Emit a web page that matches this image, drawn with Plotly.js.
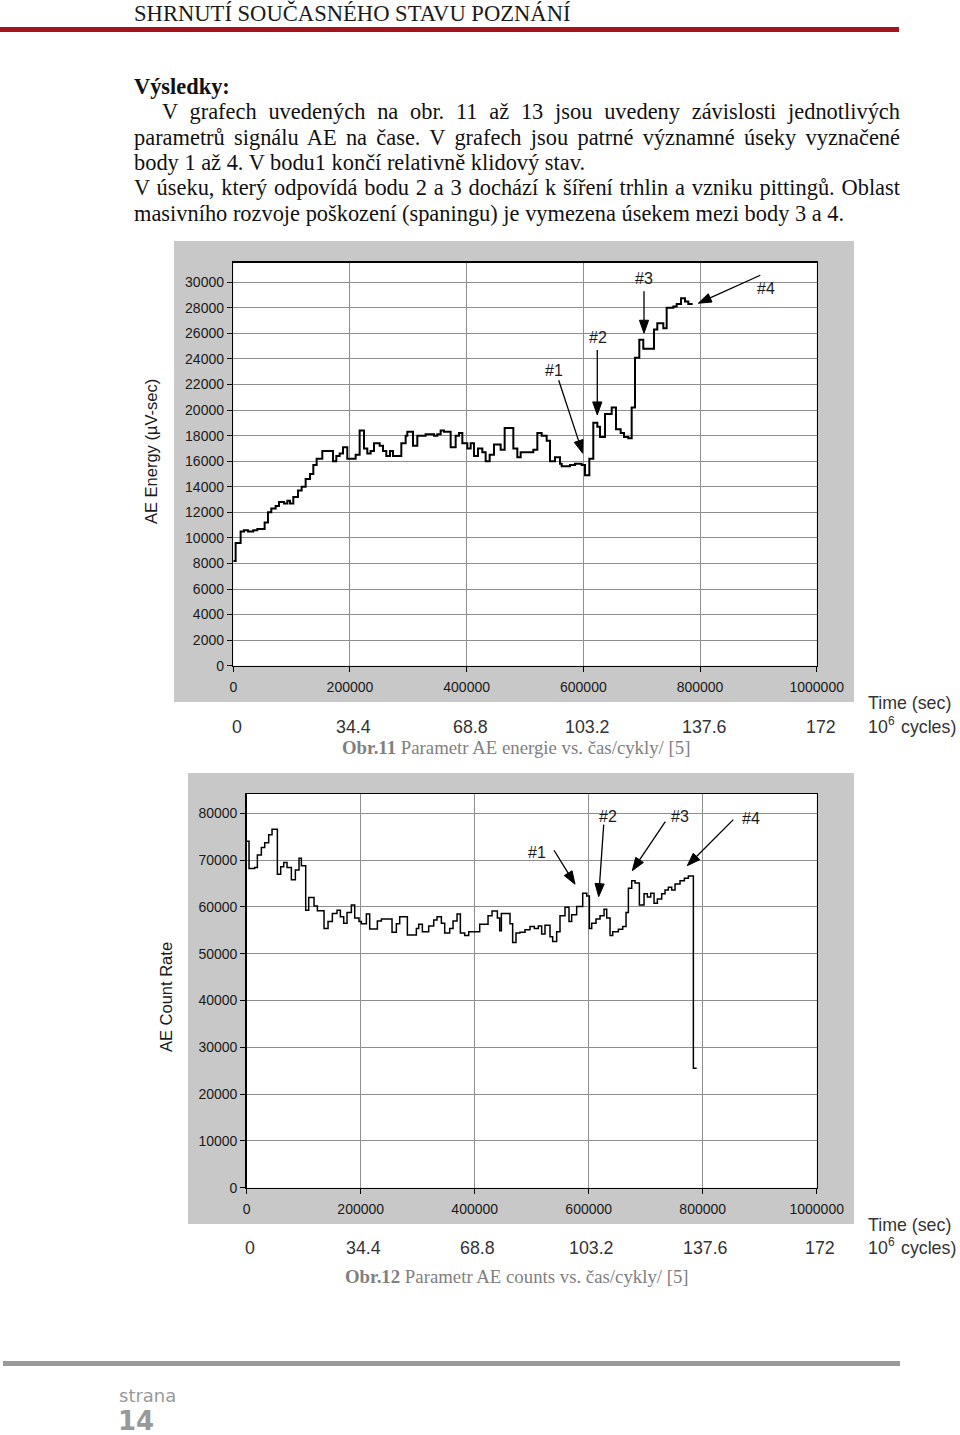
<!DOCTYPE html>
<html><head><meta charset="utf-8">
<script src="https://cdn.plot.ly/plotly-3.0.1.min.js"></script>
<style>
html,body{margin:0;padding:0;background:#fff;}
#page{position:relative;width:960px;height:1435px;overflow:hidden;background:#fff;}
#chart{position:absolute;left:0;top:0;width:960px;height:1435px;z-index:1;}
.t{position:absolute;font-family:"Liberation Serif","Times New Roman",serif;color:#111;white-space:nowrap;z-index:2;font-size:22.4px;line-height:25.4px;}
.j{text-align:justify;text-align-last:justify;white-space:normal;}
.cap{position:absolute;font-family:"Liberation Serif","Times New Roman",serif;color:#808080;font-size:18.8px;line-height:22px;white-space:nowrap;z-index:2;}
</style></head>
<body><div id="page">
<div id="chart"></div>
<div class="t" style="left:134px;top:1px;line-height:26px;font-size:22.6px;color:#1a1a1a;">SHRNUTÍ SOUČASNÉHO STAVU POZNÁNÍ</div>
<div style="position:absolute;left:0;top:27px;width:899px;height:5px;background:#a3141c;z-index:2"></div>
<div class="t" style="left:134px;top:74.3px;font-weight:bold;">Výsledky:</div>
<div class="t j" style="left:162px;top:99.3px;width:738px;">V grafech uvedených na obr. 11 až 13 jsou uvedeny závislosti jednotlivých</div>
<div class="t j" style="left:134px;top:124.8px;width:766px;">parametrů signálu AE na čase. V grafech jsou patrné významné úseky vyznačené</div>
<div class="t" style="left:134px;top:150.3px;">body 1 až 4. V bodu1 končí relativně klidový stav.</div>
<div class="t j" style="left:134px;top:175.3px;width:766px;">V úseku, který odpovídá bodu 2 a 3 dochází k šíření trhlin a vzniku pittingů. Oblast</div>
<div class="t" style="left:134px;top:201.3px;">masivního rozvoje poškození (spaningu) je vymezena úsekem mezi body 3 a 4.</div>
<div class="cap" style="left:342px;top:737px;"><b>Obr.11</b> Parametr AE energie vs. čas/cykly/ [5]</div>
<div class="cap" style="left:345px;top:1266px;"><b>Obr.12</b> Parametr AE counts vs. čas/cykly/ [5]</div>
<div style="position:absolute;left:3px;top:1361px;width:897px;height:5px;background:#9a9a9a;z-index:2"></div>
<div style="position:absolute;left:119px;top:1384px;font-family:'DejaVu Sans',sans-serif;font-size:18px;line-height:24px;color:#999;z-index:2">strana</div>
<div style="position:absolute;left:118px;top:1408px;font-family:'DejaVu Sans',sans-serif;font-weight:bold;font-size:26px;line-height:26px;color:#999;z-index:2">14</div>
</div>
<script>
// ---------- data ----------
// Chart 1: AE Energy (uV-sec) vs time (sec), step series
const energyTime = [0, 4000, 12571, 18286, 25143, 34286, 41143, 53714, 59429, 65143, 72571, 78286, 86857, 92571, 97143, 102857, 110857, 117143, 124000, 131429, 137143, 142857, 152571, 170857, 176571, 182286, 188000, 195429, 209714, 216571, 224000, 229714, 235429, 241143, 250857, 256571, 262286, 268571, 273714, 288000, 295429, 298286, 308000, 315429, 329714, 344000, 349714, 355429, 361143, 372571, 381143, 386857, 392571, 401143, 406857, 412571, 419429, 426857, 432571, 439429, 446857, 458286, 465143, 480000, 486860, 492570, 514280, 521140, 528570, 537140, 542850, 551420, 560000, 562850, 577140, 585710, 597140, 602850, 610280, 617080, 623930, 628500, 637130, 648630, 655990, 664030, 669720, 677070, 682860, 688530, 695920, 702780, 721110, 726780, 737070, 742830, 754260, 760000, 767470, 774230, 779950, 787400];
const energyValue = [8200, 9600, 10500, 10600, 10500, 10600, 10700, 11200, 12000, 12300, 12500, 12800, 12700, 12900, 12700, 13200, 13700, 14000, 14600, 15000, 15700, 16200, 16800, 16000, 16400, 16600, 17100, 16200, 16500, 18400, 17000, 16600, 16800, 17400, 17200, 16800, 16400, 16800, 16400, 17400, 18000, 18300, 17200, 18000, 18100, 18000, 18100, 18400, 18300, 17100, 18000, 18200, 17400, 17000, 17400, 16400, 17000, 16700, 16000, 16500, 17300, 16900, 18600, 17000, 16300, 16700, 16900, 18200, 18000, 17600, 16000, 16300, 15800, 15600, 15700, 15800, 15700, 14900, 16200, 19000, 18700, 17900, 19700, 20200, 18500, 18200, 17900, 17800, 20200, 24100, 25500, 24800, 26300, 26800, 26400, 28000, 28100, 28300, 28750, 28500, 28300, 28300];

// Chart 2: AE Count Rate vs time (sec), step series
const countTime = [0, 4094, 14035, 18714, 25731, 31579, 38597, 44445, 53802, 59650, 64913, 70761, 78363, 85381, 91814, 95907, 103510, 108773, 118130, 123978, 135674, 142691, 150294, 158481, 164329, 170177, 176025, 183627, 189475, 197078, 201171, 209943, 215791, 229242, 236259, 254973, 262575, 268423, 281874, 297663, 301757, 308190, 319301, 328073, 333921, 341524, 347372, 356144, 361992, 369009, 374857, 382459, 389477, 408775, 423395, 430413, 439770, 443863, 446787, 461930, 466600, 472460, 479480, 488250, 497020, 504620, 511640, 517490, 523340, 532110, 536790, 543810, 549660, 558430, 565450, 570130, 578900, 589490, 596500, 601180, 605270, 612880, 619900, 626910, 631590, 637440, 642120, 652060, 659660, 665510, 669610, 675450, 681300, 688900, 697090, 702940, 708780, 714630, 720480, 728080, 733930, 739780, 745620, 751470, 760240, 767840, 774860, 783630, 789480];
const countValue = [74000, 68200, 68400, 71100, 72700, 73700, 75400, 76600, 67000, 68600, 69500, 68400, 65800, 67900, 70400, 68800, 59300, 62000, 60200, 59200, 55400, 56900, 58600, 59300, 57900, 56500, 58800, 60400, 57600, 56900, 56400, 58500, 55300, 57000, 57400, 54600, 56400, 57900, 54000, 55400, 56300, 54700, 55900, 57200, 57900, 56500, 54400, 55400, 57000, 58500, 54400, 53900, 54700, 56300, 58100, 59100, 57600, 54900, 58600, 56400, 52400, 54400, 54600, 55100, 55800, 55400, 55900, 54200, 56100, 53600, 52600, 54700, 58100, 59900, 56900, 58300, 60100, 62900, 62300, 55400, 56500, 57400, 58100, 59500, 57600, 53900, 54700, 55200, 55800, 58800, 64000, 65600, 65100, 60400, 62800, 62100, 62900, 60800, 61700, 62800, 63600, 64200, 63600, 64900, 65600, 66100, 66600, 25500, 25500];

// axis tick values / labels
const timeTicks = [0, 200000, 400000, 600000, 800000, 1000000];
const cycleLabels = ["0", "34.4", "68.8", "103.2", "137.6", "172"];
const markerLabels = ["#1", "#2", "#3", "#4"];
const energyTitle = "AE Energy (µV-sec)";
const countTitle = "AE Count Rate";
const timeUnit = "Time (sec)";
const cycleUnit = ["10", "6", "cycles)"]; // 10^6 cycles)

// ---------- layout helpers ----------
const W = 960, H = 1435;
const fx = p => p / W, fy = p => 1 - p / H;
const ARIAL = "Arial, 'Liberation Sans', sans-serif";
const tickFont = {family: ARIAL, size: 14, color: "#1a1a1a"};
const lblFont = {family: ARIAL, size: 16, color: "#1a1a1a"};
const outFont = {family: ARIAL, size: 17.8, color: "#333"};
const supFont = {family: ARIAL, size: 12, color: "#333"};

function xAx(domain, anchor) {
  return {domain: domain, range: [0, 1000000], tickvals: timeTicks, ticktext: timeTicks.map(String),
    showgrid: true, gridcolor: "#8f8f8f", gridwidth: 1, zeroline: false,
    showline: true, mirror: true, linecolor: "#000", linewidth: 1.5,
    ticks: "outside", ticklen: 5, tickcolor: "#000", tickwidth: 1, tickfont: tickFont,
    ticklabelstandoff: 3, anchor: anchor, fixedrange: true};
}
function yAx(domain, max, dtick, anchor) {
  return {domain: domain, range: [0, max], dtick: dtick, tick0: 0, tickformat: "d",
    showgrid: true, gridcolor: "#8f8f8f", gridwidth: 1, zeroline: false,
    showline: true, mirror: true, linecolor: "#000", linewidth: 1.5,
    ticks: "outside", ticklen: 5, tickcolor: "#000", tickwidth: 1, tickfont: tickFont,
    anchor: anchor, fixedrange: true};
}

const xa1 = xAx([fx(233.3), fx(816.7)], "y");
const ya1 = yAx([fy(665.7), fy(262.7)], 31530, 2000, "x");
const xa2 = xAx([fx(246.7), fx(816.7)], "y2");
const ya2 = yAx([fy(1187.7), fy(794)], 84120, 10000, "x2");

const traces = [
  {x: energyTime, y: energyValue, type: "scatter", mode: "lines", line: {shape: "hv", color: "#000", width: 2}, xaxis: "x", yaxis: "y", hoverinfo: "skip"},
  {x: countTime, y: countValue, type: "scatter", mode: "lines", line: {shape: "hv", color: "#000", width: 1.5}, xaxis: "x2", yaxis: "y2", hoverinfo: "skip"}
];

const ann = [];
const shapes = [
  {type: "rect", xref: "paper", yref: "paper", x0: fx(174), x1: fx(854), y0: fy(702), y1: fy(241), fillcolor: "#c8c8c8", line: {width: 0}, layer: "below"},
  {type: "rect", xref: "paper", yref: "paper", x0: fx(188), x1: fx(854), y0: fy(1224), y1: fy(773), fillcolor: "#c8c8c8", line: {width: 0}, layer: "below"},
  {type: "rect", xref: "x domain", yref: "y domain", x0: 0, x1: 1, y0: 0, y1: 1, fillcolor: "#fff", line: {width: 0}, layer: "below"},
  {type: "rect", xref: "x2 domain", yref: "y2 domain", x0: 0, x1: 1, y0: 0, y1: 1, fillcolor: "#fff", line: {width: 0}, layer: "below"}
];

// arrow = line + filled triangular head; tip in data units, tail as pixel offset (y down)
function arrow(xr, yr, xax, yax, tx, ty, ox, oy) {
  const kx = (xax.domain[1] - xax.domain[0]) * W / (xax.range[1] - xax.range[0]);
  const ky = (yax.domain[1] - yax.domain[0]) * H / (yax.range[1] - yax.range[0]);
  const toD = (dx, dy) => [tx + dx / kx, ty - dy / ky];
  const L = Math.hypot(ox, oy), ux = -ox / L, uy = -oy / L; // unit vector tail->tip
  const hl = 13, hw = 4.6;
  const bx = -ux * hl, by = -uy * hl, pxv = -uy, pyv = ux;
  const t = toD(ox, oy), b = toD(bx, by);
  shapes.push({type: "line", xref: xr, yref: yr, x0: t[0], y0: t[1], x1: b[0], y1: b[1], line: {color: "#000", width: 1.3}});
  const p0 = toD(0, 0), p1 = toD(bx + pxv * hw, by + pyv * hw), p2 = toD(bx - pxv * hw, by - pyv * hw);
  shapes.push({type: "path", xref: xr, yref: yr, path: `M ${p0[0]} ${p0[1]} L ${p1[0]} ${p1[1]} L ${p2[0]} ${p2[1]} Z`, fillcolor: "#000", line: {color: "#000", width: 1}});
}
function label(xr, yr, x, y, t) {
  ann.push({xref: xr, yref: yr, x: x, y: y, xanchor: "center", yanchor: "middle", text: t, showarrow: false, font: lblFont});
}
// chart 1 markers
[[598900, 16620, -24, -73], [623900, 19620, 0, -65], [704000, 26010, 0, -42], [797060, 28360, 62, -28]]
  .forEach(a => arrow("x", "y", xa1, ya1, a[0], a[1], a[2], a[3]));
[[549700, 23060], [624300, 25680], [704000, 30300], [912300, 29520]]
  .forEach((p, i) => label("x", "y", p[0], p[1], markerLabels[i]));
// chart 2 markers
[[575970, 64840, -21, -34], [617550, 62190, 5, -72], [676500, 67740, 33, -49], [773000, 68810, 46, -46]]
  .forEach(a => arrow("x2", "y2", xa2, ya2, a[0], a[1], a[2], a[3]));
[[509300, 71630], [633900, 79320], [760200, 79320], [884800, 78900]]
  .forEach((p, i) => label("x2", "y2", p[0], p[1], markerLabels[i]));

// secondary scale labels (cycles) under each chart
timeTicks.forEach((t, i) => {
  ann.push({xref: "x", yref: "paper", x: t, y: fy(727), xanchor: "center", yanchor: "middle", text: cycleLabels[i], showarrow: false, xshift: 4, font: outFont});
  ann.push({xref: "x2", yref: "paper", x: t, y: fy(1248), xanchor: "center", yanchor: "middle", text: cycleLabels[i], showarrow: false, xshift: 3, font: outFont});
});
function unitBlock(yTime, yCyc) {
  const base = {xref: "paper", yref: "paper", xanchor: "left", yanchor: "middle", showarrow: false};
  ann.push(Object.assign({}, base, {x: fx(866), y: fy(yTime), text: timeUnit, font: outFont}));
  ann.push(Object.assign({}, base, {x: fx(866), y: fy(yCyc), text: cycleUnit[0], font: outFont}));
  ann.push(Object.assign({}, base, {x: fx(885.5), y: fy(yCyc - 6), text: cycleUnit[1], font: supFont}));
  ann.push(Object.assign({}, base, {x: fx(899), y: fy(yCyc), text: cycleUnit[2], font: outFont}));
}
unitBlock(703, 727);
unitBlock(1225, 1248);
// y-axis titles
ann.push({xref: "paper", yref: "paper", x: fx(151), y: fy(452), xanchor: "center", yanchor: "middle", text: energyTitle, textangle: -90, showarrow: false, font: {family: ARIAL, size: 16.5, color: "#1a1a1a"}});
ann.push({xref: "paper", yref: "paper", x: fx(166), y: fy(997), xanchor: "center", yanchor: "middle", text: countTitle, textangle: -90, showarrow: false, font: {family: ARIAL, size: 16.5, color: "#1a1a1a"}});

const layout = {
  width: W, height: H, margin: {l: 0, r: 0, t: 0, b: 0},
  paper_bgcolor: "rgba(0,0,0,0)", plot_bgcolor: "rgba(0,0,0,0)", showlegend: false,
  xaxis: xa1, yaxis: ya1, xaxis2: xa2, yaxis2: ya2,
  annotations: ann, shapes: shapes
};
Plotly.newPlot("chart", traces, layout, {staticPlot: true, displayModeBar: false}).then(gd => {
  gd.querySelectorAll("text").forEach(el => { if (!el.textContent.trim()) el.remove(); });
});
</script>
</body></html>
